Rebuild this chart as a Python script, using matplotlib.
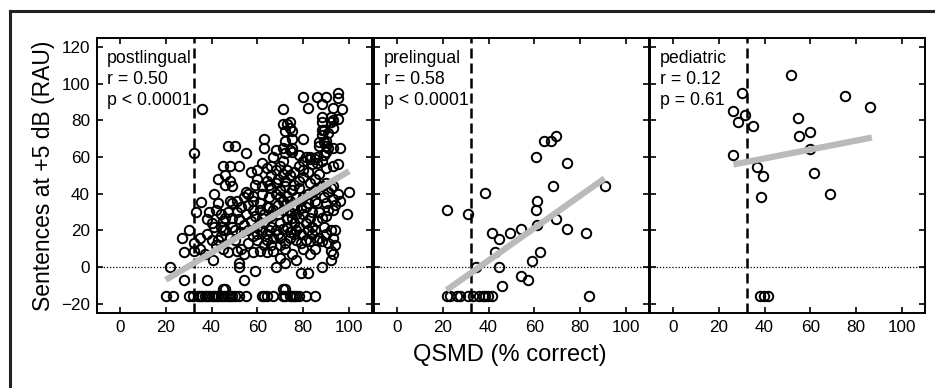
import numpy as np
import matplotlib
matplotlib.use("Agg")
import matplotlib.pyplot as plt
from matplotlib.lines import Line2D

plt.rcParams['font.family'] = ['Liberation Sans', 'DejaVu Sans']

# postlingual group (QSMD %, sentences RAU)
post_pts = [
    (36, 86), (32.5, 62), (80, 93), (86, 93), (90, 93), (95, 95), (95, 92), (88, 89), (93, 87), (97, 86),
    (82, 87), (71, 86), (71, 78), (73, 78), (74, 79), (74, 76), (88, 82), (88, 79), (93, 80), (93, 76),
    (88, 75), (88, 72), (95, 81), (80, 70), (63, 70), (72, 69), (75, 70), (87, 68), (89, 68), (90, 66),
    (63, 65), (47, 66), (50, 66), (55, 62),
    (72, 74), (75, 74), (71, 65), (74, 64), (92, 79), (92, 82), (89, 75), (91, 73), (90, 69), (96, 65),
    (93, 65), (68, 64), (67, 60), (72, 62), (75, 63), (75, 65), (78, 61), (81, 60), (83, 60), (86, 60),
    (89, 61), (90, 63), (87, 66), (91, 65),
    (45, 55), (48, 55), (52, 55), (43, 48), (46, 50), (48, 47), (46, 45), (49, 44), (41, 40), (55, 41),
    (60, 48), (64, 47), (62, 44), (65, 45), (64, 54), (66, 55), (68, 53), (70, 55), (71, 58), (68, 46),
    (72, 47), (74, 50), (76, 45), (78, 47), (80, 49), (83, 46), (72, 44), (75, 42), (78, 43), (80, 58),
    (83, 59), (85, 59), (87, 51), (90, 54), (93, 55), (95, 56), (90, 46), (93, 44), (91, 41), (100, 41),
    (35.5, 35.5), (33, 30), (38, 26), (40, 24), (41, 22), (42, 31), (44, 29), (43, 35), (46, 27), (48, 36),
    (49, 35), (51, 36), (54, 38), (56, 40), (58, 36), (61, 35), (49, 27), (52, 26), (55, 29), (58, 31),
    (61, 31), (62, 27), (64, 33), (67, 31), (69, 29), (71, 36), (72, 34), (74, 30), (75, 27), (77, 29),
    (79, 32), (80, 29), (83, 27), (86, 25), (88, 27), (90, 28), (93, 31), (94, 34), (89, 38), (93, 37),
    (96, 36), (99, 29),
    (27, 16), (30, 20), (28, 8), (32.5, 9), (32.5, 13), (35, 10), (35, 16), (38, 18), (40, 15), (37, 7),
    (40.5, 4), (43, 15), (45, 20), (44, 17), (46, 20), (48, 16), (50, 15), (51, 9), (53, 10), (54, 7),
    (52, 2), (52, 0), (56, 13), (58, 17), (60, 15), (61, 9), (62, 20), (64, 18), (64, 15), (66, 12),
    (67, 9), (70, 16), (72, 13), (72, 10), (75, 7), (70, 5), (68, 0), (72, 2), (76, 18), (77, 15),
    (79, 13), (80, 10), (77, 4), (82, 20), (84, 18), (86, 15), (88, 14), (83, 7), (90, 18), (92, 20),
    (93, 16), (91, 13), (92, 9), (93, 7), (92, 4), (87, 16), (89, 22),
    (57, 25), (60, 22), (63, 24), (66, 22), (68, 20), (70, 24), (73, 22), (76, 24), (78, 22), (81, 24),
    (84, 22), (65, 38), (68, 40), (70, 42), (73, 39), (77, 38), (82, 40), (85, 42), (86, 35), (88, 44),
    (59, 45), (57, 52), (60, 53), (62, 57), (66, 50), (76, 52), (82, 52), (85, 48), (70, 12), (74, 16),
    (45, 10), (47, 8), (42, 12), (56, 20), (58, 8), (49, 22), (53, 19), (45, 25), (47, 30), (64, 8),
    (67, 16), (81, 15), (85, 10), (94, 20), (94, 12), (90, 35), (92, 43), (95, 40), (80, 38), (66, 28),
    (53, 33), (56, 34), (59, 28), (63, 29), (65, 33), (69, 34), (71, 31), (73, 26), (76, 32), (78, 27),
    (81, 33), (84, 30), (85, 36), (87, 30), (91, 31), (76, 34), (79, 36), (74, 36), (82, 35), (70, 38),
    (58, 39), (62, 40), (66, 43), (69, 48), (71, 51), (73, 53), (78, 55), (80, 53), (84, 56), (86, 57),
    (88, 58), (60, 18), (63, 12), (65, 20), (69, 18), (71, 21), (74, 19), (77, 20), (79, 18), (83, 14),
    (85, 20), (50, 20), (54, 23), (51, 30), (44, 22), (39, 30),
    (21.7, 0), (28, -7), (38, -7), (54, -7), (59, -2), (79, -3), (82, -3), (88, 0),
]
post_floor_x = [20, 23, 30, 32, 34, 35, 36, 37, 38, 39, 40, 41, 42, 43, 44, 45, 46, 47, 48, 49, 50, 52, 55,
                62, 63, 64, 67, 71, 72, 74, 75, 76, 77, 78, 81, 85]
post_low_x = [45, 46, 71, 72]

# prelingual group
pre_pts = [
    (21.7, 31), (31, 29), (38.4, 40.7), (41.3, 18.4), (44.6, 15.6), (49.3, 18.4), (54.3, 20.7), (42.8, 8.4),
    (34.5, 0), (44.6, 0), (45.9, -10.4), (54.3, -4.7), (57.2, -7.1), (59, 3.5), (62.3, 8.4), (61.3, 23),
    (60.9, 31), (61.3, 36), (60.9, 60), (64, 68.7), (67.4, 68.7), (69.6, 71.5), (74.3, 57), (68, 44),
    (69.6, 26), (74.3, 20.7), (82.3, 18.4), (84, -16), (90.6, 44),
]
pre_floor_x = [22, 23, 26, 27.5, 31, 33, 36, 37.4, 38.4, 39.6, 41.3]

# pediatric group
ped_pts = [
    (51.4, 104.7), (30, 95), (26.4, 85), (28.3, 79.3), (31.4, 82.9), (35, 76.9), (26.4, 61), (54.6, 81.5),
    (60, 73.8), (55, 71.6), (60, 64.7), (75, 93.5), (86.2, 87.5), (36.5, 54.7), (39.1, 49.8), (38.4, 38),
    (61.4, 51.6), (68.6, 39.8),
]
ped_floor_x = [38, 39.9, 41.6]

floor_y = -16
low_y = -12

# regression lines (end points)
fits = [([20, 100], [-6.9, 52.4]), ([21.7, 90.6], [-12.5, 48.4]), ([26.4, 86.8], [56, 70.7])]
labels = ["postlingual\nr = 0.50\np < 0.0001", "prelingual\nr = 0.58\np < 0.0001", "pediatric\nr = 0.12\np = 0.61"]
cutoff = 32.5

def all_points(pts, floor_x, low_x=()):
    x = [p[0] for p in pts] + list(floor_x) + list(low_x)
    y = [p[1] for p in pts] + [floor_y] * len(floor_x) + [low_y] * len(low_x)
    return x, y

groups = [all_points(post_pts, post_floor_x, post_low_x),
          all_points(pre_pts, pre_floor_x),
          all_points(ped_pts, ped_floor_x)]

fig = plt.figure(figsize=(9.35, 3.88), dpi=100)
lefts = [97, 374, 650]
W, H = 935, 388
axes = []
for i in range(3):
    ax = fig.add_axes([lefts[i] / W, (H - 313) / H, 275 / W, 275 / H])
    axes.append(ax)
    x, y = groups[i]
    ax.axhline(0, color='black', lw=0.9, ls=(0, (1, 1.5)), zorder=1)
    ax.axvline(cutoff, color='black', lw=1.8, ls=(0, (4, 2)), zorder=3)
    ax.plot(x, y, 'o', ms=6.8, mfc='none', mec='black', mew=1.4, zorder=2)
    ax.plot(fits[i][0], fits[i][1], color='#bababa', lw=4.5, solid_capstyle='butt', zorder=4)
    ax.set_xlim(-10, 110)
    ax.set_ylim(-25, 125)
    ax.set_xticks([0, 20, 40, 60, 80, 100])
    ax.set_yticks([-20, 0, 20, 40, 60, 80, 100, 120])
    ax.tick_params(direction='in', top=True, right=True, length=4, width=1.2, labelsize=12.3, pad=5)
    if i > 0:
        ax.tick_params(labelleft=False)
    for s in ax.spines.values():
        s.set_linewidth(1.4)
    ax.text(0.035, 0.955, labels[i], transform=ax.transAxes, ha='left', va='top',
            fontsize=12.8, linespacing=1.3, zorder=5)

axes[0].set_ylabel("Sentences at +5 dB (RAU)", fontsize=16.5, labelpad=4)
fig.text(510 / W, 1 - 355 / H, "QSMD (% correct)", ha='center', va='center', fontsize=17)

# outer frame (left and top edges visible)
fig.add_artist(Line2D([10 / W, 10 / W], [0, 1 - 11 / H], color='#222222', lw=2.2))
fig.add_artist(Line2D([10 / W, 1], [1 - 11 / H, 1 - 11 / H], color='#222222', lw=2.2))

fig.savefig("out.png", dpi=100)
